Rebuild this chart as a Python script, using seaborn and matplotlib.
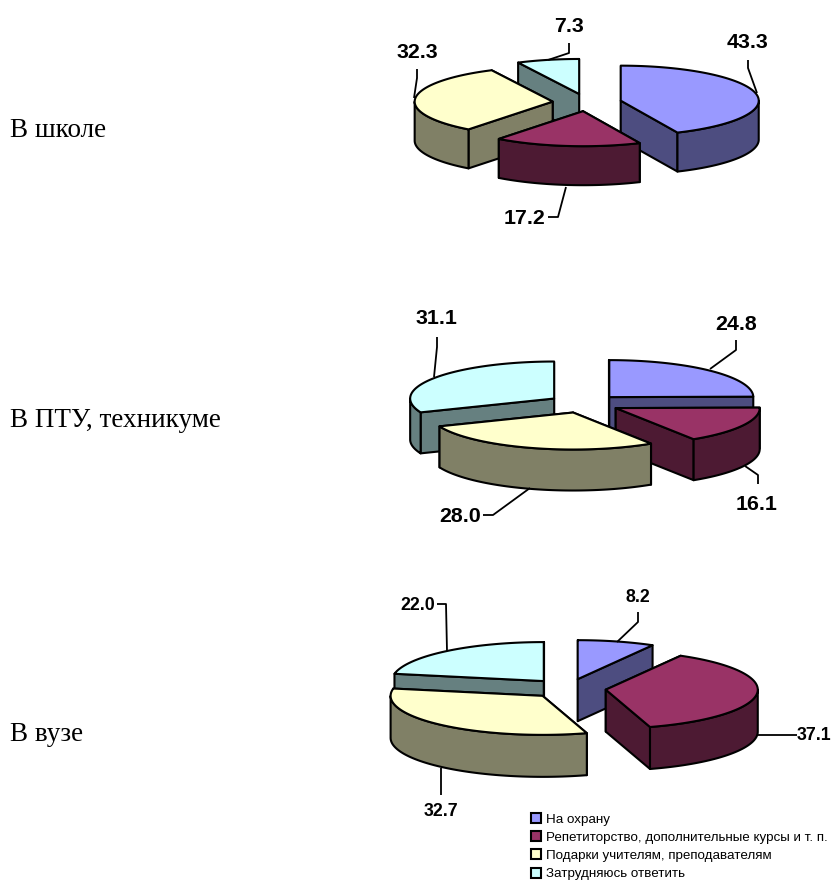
import numpy as np
import matplotlib
matplotlib.use("Agg")
import matplotlib.pyplot as plt
from matplotlib.patches import Patch
import seaborn as sns

series_names = ["На охрану", "Репетиторство, дополнительные курсы и т. п.",
                "Подарки учителям, преподавателям", "Затрудняюсь ответить"]
school = [43.3, 17.2, 32.3, 7.3]
college = [24.8, 16.1, 28.0, 31.1]
university = [8.2, 37.1, 32.7, 22.0]
row_names = ["В школе", "В ПТУ, техникуме", "В вузе"]
top_colors = ["#9999FF", "#993366", "#FFFFCC", "#CCFFFF"]

sns.set_theme(style="white")
palette = sns.color_palette(top_colors)
EXPLODE = 0.25
EDGE = dict(edgecolor="black", linewidth=1.5, joinstyle="round")

fig = plt.figure(figsize=(8.33, 8.8), dpi=100, facecolor="white")
ax = fig.add_axes([0, 0, 1, 1])
ax.set_xlim(0, 833)
ax.set_ylim(880, 0)
ax.axis("off")


def pie3d(values, cx, cy, rx, ry, depth):
    shares = np.array(values, float)
    edges = np.concatenate([[0], np.cumsum(shares)]) / shares.sum() * 2 * np.pi
    slices = []
    for i in range(len(shares)):
        a0, a1 = edges[i], edges[i + 1]
        mid = (a0 + a1) / 2
        slices.append((-np.cos(mid), i, a0, a1, mid))
    for _, i, a0, a1, mid in sorted(slices):
        ox = cx + EXPLODE * rx * np.sin(mid)
        oy = cy - EXPLODE * ry * np.cos(mid)
        top = palette[i]
        dark = tuple(c * 0.5 for c in top)
        pts = lambda t: (ox + rx * np.sin(t), oy - ry * np.cos(t))
        # radial faces, the one further back first
        for a in sorted((a0, a1), key=lambda v: -np.cos(v)):
            x, y = pts(a)
            ax.fill([ox, x, x, ox], [oy, y, y + depth, oy + depth],
                    facecolor=dark, **EDGE)
        # outer wall: only the part of the rim facing the viewer
        w0, w1 = max(a0, np.pi / 2), min(a1, 3 * np.pi / 2)
        if w1 > w0:
            t = np.linspace(w0, w1, 80)
            x, y = pts(t)
            ax.fill(np.r_[x, x[::-1]], np.r_[y, y[::-1] + depth],
                    facecolor=dark, **EDGE)
        # top face
        t = np.linspace(a0, a1, 160)
        x, y = pts(t)
        ax.fill(np.r_[ox, x], np.r_[oy, y], facecolor=top, **EDGE)


pie3d(school, 587, 102.5, 138, 35, 39)
pie3d(college, 584, 403.7, 144, 37, 41)
pie3d(university, 568, 688.6, 152, 39, 42)

leaders = [
    [(748, 60), (748, 68), (757, 93)],
    [(569, 43), (569, 53), (548, 60)],
    [(417, 69), (417, 78), (414, 98)],
    [(548, 217), (558, 217), (566, 187)],
    [(736, 340), (736, 350), (710, 369)],
    [(437, 337), (437, 347), (434, 377)],
    [(758, 484), (758, 475), (745, 466)],
    [(483, 515), (493, 515), (530, 488)],
    [(638, 612), (638, 622), (617, 642)],
    [(437, 604), (446, 604), (447, 651)],
    [(797, 735), (757, 735)],
    [(441, 795), (441, 768)],
]
for line in leaders:
    xs, ys = zip(*line)
    ax.plot(xs, ys, color="black", lw=1.3, solid_capstyle="butt")

big = 15.4
small = 12.8
labels = [
    (school[0], 748, 43, big), (school[3], 569, 27, big),
    (school[2], 417, 53, big), (school[1], 525, 219, big),
    (college[0], 736, 324, big), (college[3], 436, 319, big),
    (college[1], 757, 504, big), (college[2], 460, 517, big),
    (university[0], 638, 598, small), (university[3], 418, 606, small),
    (university[1], 814, 736, small), (university[2], 441, 812, small),
]
for val, x, y, size in labels:
    ax.text(x, y, f"{val:.1f}", ha="center", va="center", fontsize=size,
            fontweight="bold", family="Liberation Sans", color="black")

for name, y in zip(row_names, [137, 427, 741]):
    ax.text(10, y, name, ha="left", va="baseline", fontsize=19.5,
            family="Liberation Serif", color="black")

handles = [Patch(facecolor=c, edgecolor="black", linewidth=1.5) for c in palette]
ax.legend(handles, series_names, loc="upper left",
          bbox_to_anchor=(531 / 833, 1 - 813 / 880), frameon=False,
          prop={"family": "Liberation Sans", "size": 9.67}, labelcolor="black",
          handlelength=0.75, handleheight=0.75, handletextpad=0.33,
          labelspacing=0.42, borderpad=0, borderaxespad=0)

fig.savefig("out.png", dpi=100)
